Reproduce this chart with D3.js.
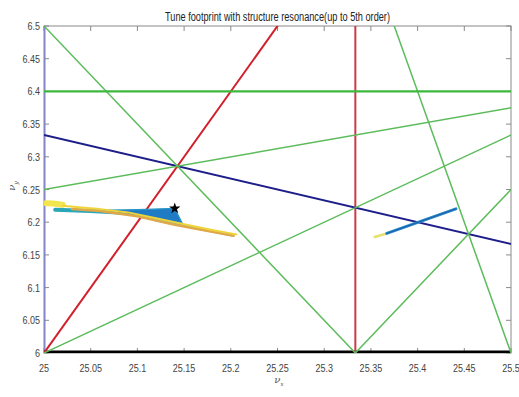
<!DOCTYPE html>
<html><head><meta charset="utf-8">
<script src="https://cdn.jsdelivr.net/npm/d3@7"></script>
<style>
html,body{margin:0;padding:0;background:#fff;}
svg{display:block;}
</style></head>
<body>
<script>
// ---- data ----
const title = "Tune footprint with structure resonance(up to 5th order)";
const xTicks = [25, 25.05, 25.1, 25.15, 25.2, 25.25, 25.3, 25.35, 25.4, 25.45, 25.5];
const xTickLabels = ["25","25.05","25.1","25.15","25.2","25.25","25.3","25.35","25.4","25.45","25.5"];
const yTicks = [6, 6.05, 6.1, 6.15, 6.2, 6.25, 6.3, 6.35, 6.4, 6.45, 6.5];
const yTickLabels = ["6","6.05","6.1","6.15","6.2","6.25","6.3","6.35","6.4","6.45","6.5"];

// resonance lines a*nux + b*nuy = c, with order
const resA     = [1, 0, 2, 3, 1, 3, 1, 2, 3, 4, 0];
const resB     = [0, 1, -1, 0, 3, 2, -4, -3, -2, 1, 5];
const resC     = [25, 6, 44, 76, 44, 88, 0, 32, 64, 108, 32];
const resOrder = [1, 1, 3, 3, 4, 5, 5, 5, 5, 5, 5];

// tune footprint strips (nux, nuy)
const fpYellowBlob = [[25.002,6.2290],[25.010,6.2286],[25.020,6.2268]];
const fpYellow = [[25.020,6.2250],[25.040,6.2225],[25.060,6.2200],[25.090,6.2150],[25.120,6.2060],[25.150,6.1968],[25.180,6.1882],[25.206,6.1814]];
const fpOrange = [[25.030,6.2200],[25.060,6.2172],[25.100,6.2090],[25.140,6.1962],[25.170,6.1882],[25.203,6.1792]];
const fpTeal   = [[25.012,6.2190],[25.050,6.2172],[25.090,6.2140],[25.125,6.2095]];
const fpBlue   = [[25.050,6.2180],[25.100,6.2192],[25.140,6.2212],[25.148,6.1985],[25.125,6.2030],[25.090,6.2115]];
const fpLight  = [[25.120,6.2035],[25.160,6.1922],[25.200,6.1806]];
const fp2Yellow = [[25.354,6.1774],[25.367,6.1828]];
const fp2Blue   = [[25.367,6.1828],[25.441,6.2205]];
const zeroTune  = [25.140, 6.2210];

// ---- layout ----
const W = 519, H = 397;
const m = {l:44, r:8, t:26, b:44};
const svg = d3.select("body").append("svg").attr("width", W).attr("height", H);
const x = d3.scaleLinear().domain([25, 25.5]).range([m.l, W - m.r]);
const y = d3.scaleLinear().domain([6, 6.5]).range([H - m.b, m.t]);
const X0 = x(25), X1 = x(25.5), Y0 = y(6), Y1 = y(6.5);

svg.append("defs").append("clipPath").attr("id","clip")
  .append("rect").attr("x", X0).attr("y", Y1).attr("width", X1 - X0).attr("height", Y0 - Y1);

const font = "'Liberation Sans',Arial,sans-serif";

// frame
svg.append("rect").attr("x", X0).attr("y", Y1).attr("width", X1 - X0).attr("height", Y0 - Y1)
  .attr("fill", "#fff").attr("stroke", "#8a8a8a").attr("stroke-width", 1);

// ticks (inward)
const tk = svg.append("g").attr("stroke", "#8a8a8a").attr("stroke-width", 1);
xTicks.forEach(v => {
  tk.append("line").attr("x1", x(v)).attr("x2", x(v)).attr("y1", Y0).attr("y2", Y0 - 5);
  tk.append("line").attr("x1", x(v)).attr("x2", x(v)).attr("y1", Y1).attr("y2", Y1 + 5);
});
yTicks.forEach(v => {
  tk.append("line").attr("x1", X0).attr("x2", X0 + 5).attr("y1", y(v)).attr("y2", y(v));
  tk.append("line").attr("x1", X1).attr("x2", X1 - 5).attr("y1", y(v)).attr("y2", y(v));
});

// resonance lines
const plot = svg.append("g").attr("clip-path", "url(#clip)");
function lineColor(i){
  const o = resOrder[i];
  if (o === 1) return resA[i] === 1 ? "#8484c8" : "#000";
  if (o === 3) return resB[i] === 0 ? "#cc3a48" : "#d21f2a";
  if (o === 4) return "#1e1e8a";
  return resB[i] === 5 ? "#3cb83c" : "#5cbc5c";
}
function lineWidth(i){
  const o = resOrder[i];
  if (o === 1) return resA[i] === 1 ? 3 : 5;
  if (resB[i] === 5) return 2.2;
  return o === 5 ? 1.5 : 2;
}
resA.forEach((a, i) => {
  const b = resB[i], c = resC[i];
  let p1, p2;
  if (b === 0) { p1 = [c / a, 6]; p2 = [c / a, 6.5]; }
  else { p1 = [25, (c - a * 25) / b]; p2 = [25.5, (c - a * 25.5) / b]; }
  plot.append("line")
    .attr("x1", x(p1[0])).attr("y1", y(p1[1])).attr("x2", x(p2[0])).attr("y2", y(p2[1]))
    .attr("stroke", lineColor(i)).attr("stroke-width", lineWidth(i));
});

// footprint
const lg = d3.line().x(d => x(d[0])).y(d => y(d[1]));
function strip(data, color, w, op){
  plot.append("path").attr("d", lg(data)).attr("fill", "none").attr("stroke", color)
    .attr("stroke-width", w).attr("stroke-linecap", "round").attr("stroke-linejoin", "round")
    .attr("opacity", op || 1);
}
strip(fpYellowBlob, "#f2e650", 6);
strip(fpTeal, "#2aa6b8", 4);
plot.append("path").attr("d", lg(fpBlue) + "Z").attr("fill", "#1f7cc4").attr("stroke", "#2a96c8").attr("stroke-width", 1.2);
strip(fpLight, "#42b0d8", 3);
strip(fpOrange, "#e0a848", 2.5);
strip(fpYellow, "#efd43a", 2);
strip(fp2Yellow, "#e6e070", 2.5);
strip(fp2Blue, "#2a8ac8", 3);
strip(fp2Blue, "#1a5aa8", 1);

// star
svg.append("path").attr("d", d3.symbol().type(d3.symbolStar).size(40)())
  .attr("transform", `translate(${x(zeroTune[0])},${y(zeroTune[1])})`).attr("fill", "#000");

// tick labels (condensed)
const lab = svg.append("g").attr("font-family", font).attr("font-size", 11).attr("fill", "#444");
const sx = 0.82;
xTicks.forEach((v, i) => {
  lab.append("text").attr("transform", `translate(${x(v)},${Y0 + 19}) scale(${sx},1)`)
    .attr("text-anchor", "middle").text(xTickLabels[i]);
});
yTicks.forEach((v, i) => {
  lab.append("text").attr("transform", `translate(${X0 - 4},${y(v) + 4}) scale(${sx},1)`)
    .attr("text-anchor", "end").text(yTickLabels[i]);
});

// axis labels
const xl = svg.append("text").attr("x", 279).attr("y", 383).attr("font-family", "'DejaVu Serif',serif")
  .attr("font-style", "italic").attr("font-size", 10).attr("fill", "#555").attr("text-anchor", "middle");
xl.append("tspan").text("ν");
xl.append("tspan").attr("dy", 3).attr("font-size", 6).text("x");
const yl = svg.append("text").attr("transform", "translate(15,186) rotate(-90)").attr("font-family", "'DejaVu Serif',serif")
  .attr("font-style", "italic").attr("font-size", 10).attr("fill", "#555").attr("text-anchor", "middle");
yl.append("tspan").text("ν");
yl.append("tspan").attr("dy", 3).attr("font-size", 6).text("y");

// title
svg.append("text").attr("x", 277.5).attr("y", 21).attr("text-anchor", "middle")
  .attr("font-family", font).attr("font-size", 12).attr("fill", "#222")
  .attr("textLength", 225).attr("lengthAdjust", "spacingAndGlyphs").text(title);
</script>
</body></html>
